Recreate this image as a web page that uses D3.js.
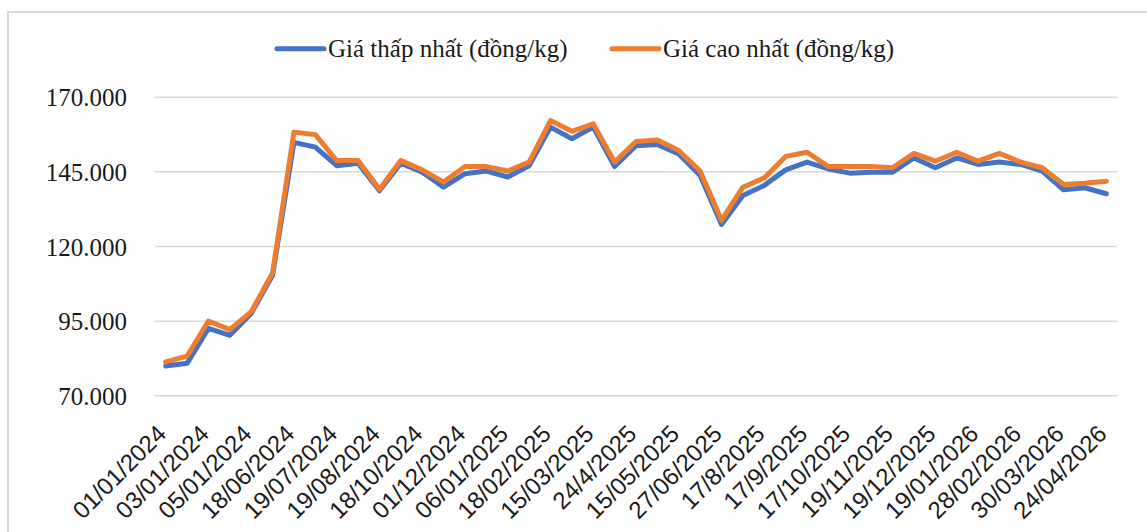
<!DOCTYPE html>
<html lang="vi">
<head>
<meta charset="utf-8">
<title>Giá thấp nhất / cao nhất</title>
<script src="https://cdn.jsdelivr.net/npm/d3@7"></script>
<style>
    html, body { margin: 0; padding: 0; background: #ffffff; }
    svg { display: block; }
    .serif { font-family: "Liberation Serif", "Times New Roman", Times, serif; }
    .sans { font-family: "Liberation Sans", Arial, sans-serif; }
</style>
</head>
<body>
<svg id="line-chart" width="1147" height="532"></svg>
<script>
/**
 * Tick labels shown under the x axis (every second observation)
 * @type {string[]}
 */
const tickLabels = [
    '01/01/2024', '03/01/2024', '05/01/2024', '18/06/2024', '19/07/2024', '19/08/2024',
    '18/10/2024', '01/12/2024', '06/01/2025', '18/02/2025', '15/03/2025', '24/4/2025',
    '15/05/2025', '27/06/2025', '17/8/2025', '17/9/2025', '17/10/2025', '19/11/2025',
    '19/12/2025', '19/01/2026', '28/02/2026', '30/03/2026', '24/04/2026'
];

/**
 * Lowest price per observation (đồng/kg)
 * @type {number[]}
 */
const lowPrices = [
    79800, 80700, 92400, 90100, 97400, 110200, 154700, 153100, 146900, 147700,
    138500, 147700, 144700, 139700, 144200, 145100, 143100, 146900, 159800, 155900,
    159800, 146600, 153600, 154000, 150800, 143600, 127200, 136900, 140300, 145500,
    148100, 145800, 144400, 144700, 144700, 149500, 146200, 149500, 147300, 148100,
    147300, 145100, 138800, 139500, 137500
];

/**
 * Highest price per observation (đồng/kg)
 * @type {number[]}
 */
const highPrices = [
    81200, 83100, 94900, 92000, 98000, 111000, 158100, 157300, 148600, 148600,
    139000, 148600, 145500, 141400, 146600, 146600, 145100, 148100, 162000, 158400,
    160900, 148100, 155000, 155500, 152000, 145100, 128600, 139700, 142800, 150000,
    151400, 146600, 146600, 146600, 146200, 151000, 148400, 151400, 148400, 151000,
    148100, 146200, 140600, 141000, 141700
];

/**
 * Y axis tick values
 * @type {number[]}
 */
const yTicks = [70000, 95000, 120000, 145000, 170000];

/**
 * Series names shown in the legend
 * @type {string[]}
 */
const seriesNames = ['Giá thấp nhất (đồng/kg)', 'Giá cao nhất (đồng/kg)'];

const Colors = {
    low: '#4472c4',
    high: '#ed7d31',
    grid: '#d9d9d9',
    frame: '#d9d9d9',
    text: '#1a1a1a'
};

const Layout = {
    left: 155,
    right: 1117,
    top: 96.7,
    bottom: 395.3
};

const svgTag = d3.select('#line-chart');

const viNumber = d3.formatLocale({
    decimal: ',',
    thousands: '.',
    grouping: [3],
    currency: ['', '']
}).format(',.0f');

function drawFrame() {
    svgTag
        .append('rect')
        .attr('x', 8)
        .attr('y', 12)
        .attr('width', 1160)
        .attr('height', 560)
        .attr('fill', 'none')
        .attr('stroke', Colors.frame)
        .attr('stroke-width', 2);
}

function drawYAxis(yScale) {
    const axis = svgTag
        .append('g')
        .attr('transform', `translate(${Layout.left}, 0)`)
        .call(
            d3.axisLeft(yScale)
                .tickValues(yTicks)
                .tickSize(-(Layout.right - Layout.left))
                .tickPadding(28)
                .tickFormat(viNumber)
        )
        .attr('font-family', null)
        .attr('font-size', null);
    axis.select('.domain').remove();
    axis.selectAll('.tick line')
        .attr('stroke', Colors.grid)
        .attr('stroke-width', 1.5);
    axis.selectAll('.tick text')
        .attr('class', 'serif')
        .attr('fill', Colors.text)
        .attr('dy', '0.36em')
        .style('font-size', '25px');
}

function drawXAxis(xScale) {
    const evenIdx = d3.range(0, lowPrices.length, 2);
    const axis = svgTag
        .append('g')
        .attr('transform', `translate(0, ${Layout.bottom})`)
        .call(
            d3.axisBottom(xScale)
                .tickValues(evenIdx)
                .tickSize(0)
                .tickFormat((i) => tickLabels[i / 2])
        )
        .attr('font-family', null)
        .attr('font-size', null);
    axis.select('.domain').remove();
    axis.selectAll('.tick text')
        .attr('class', 'sans')
        .attr('fill', Colors.text)
        .attr('text-anchor', 'end')
        .attr('x', 0)
        .attr('y', 0)
        .attr('dy', 0)
        .attr('transform', 'translate(2, 40) rotate(-45)')
        .style('font-size', '24px');
}

function drawLines(xScale, yScale) {
    const line = (values) => d3.line()
        .x((_, i) => xScale(i) + xScale.bandwidth() / 2)
        .y((d) => yScale(d))(values);

    [[lowPrices, Colors.low], [highPrices, Colors.high]].forEach(([values, color]) => {
        svgTag
            .append('path')
            .attr('d', line(values))
            .attr('fill', 'none')
            .attr('stroke', color)
            .attr('stroke-width', 5)
            .attr('stroke-linejoin', 'round')
            .attr('stroke-linecap', 'round');
    });
}

function drawLegend() {
    const items = [
        { name: seriesNames[0], color: Colors.low, x: 277 },
        { name: seriesNames[1], color: Colors.high, x: 612 }
    ];
    const legend = svgTag.append('g');
    items.forEach((item) => {
        legend.append('line')
            .attr('x1', item.x)
            .attr('x2', item.x + 47)
            .attr('y1', 48.7)
            .attr('y2', 48.7)
            .attr('stroke', item.color)
            .attr('stroke-width', 5)
            .attr('stroke-linecap', 'round');
        legend.append('text')
            .text(item.name)
            .attr('class', 'serif')
            .attr('x', item.x + 51)
            .attr('y', 57.3)
            .attr('fill', Colors.text)
            .style('font-size', '25px');
    });
}

function draw() {
    svgTag.selectAll('*').remove();

    const xScale = d3.scaleBand()
        .domain(d3.range(lowPrices.length))
        .range([Layout.left, Layout.right])
        .padding(0);

    const yScale = d3.scaleLinear()
        .domain([yTicks[0], yTicks[yTicks.length - 1]])
        .range([Layout.bottom, Layout.top]);

    drawFrame();
    drawYAxis(yScale);
    drawXAxis(xScale);
    drawLines(xScale, yScale);
    drawLegend();
}

draw();
</script>
</body>
</html>
